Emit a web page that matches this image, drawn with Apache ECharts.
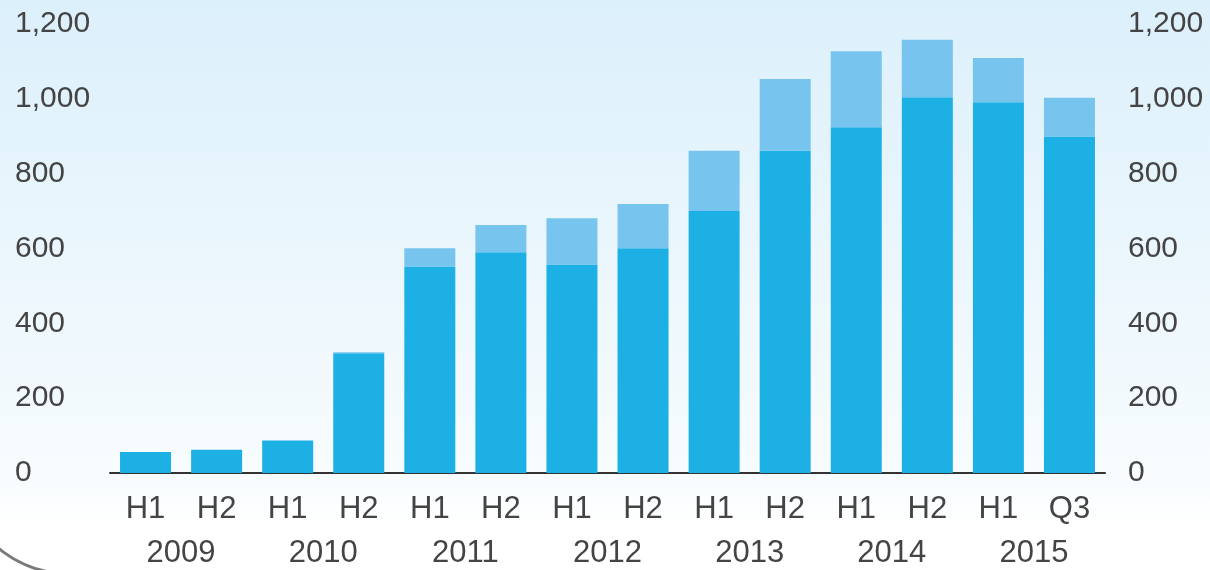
<!DOCTYPE html>
<html lang="en">
<head>
  <meta charset="UTF-8">
  <title>H1/H2 chart</title>
  <script src="https://cdn.jsdelivr.net/npm/echarts@6/dist/echarts.min.js"></script>
  <style>
    html, body { margin: 0; padding: 0; background: #fff; }
  </style>
</head>
<body>
  <div id="main" style="width: 1210px;height:570px"></div>
  <script>
    // data
    var periods = ['H1', 'H2', 'H1', 'H2', 'H1', 'H2', 'H1', 'H2', 'H1', 'H2', 'H1', 'H2', 'H1', 'Q3'];
    var years = ['2009', '2010', '2011', '2012', '2013', '2014', '2015'];
    var baseValues = [56, 62, 87, 320, 552, 590, 557, 601, 700, 861, 924, 1004, 991, 899];
    var topValues = [0, 0, 0, 3, 49, 73, 124, 118, 161, 192, 203, 154, 118, 104];
    var yTicks = [0, 200, 400, 600, 800, 1000, 1200];

    var myChart = echarts.init(document.getElementById('main'));

    var textColor = '#444';
    var fontName = '"Liberation Sans", Arial, sans-serif';

    function fmt(v) {
      return v.toLocaleString('en-US');
    }

    var option = {
      animation: false,
      graphic: [
        {
          type: 'rect',
          z: -10,
          shape: { x: 0, y: 0, width: 1210, height: 570 },
          style: {
            fill: new echarts.graphic.LinearGradient(0, 0, 0, 1, [
              { offset: 0, color: '#dcf0fb' },
              { offset: 0.85, color: '#f8fcfe' },
              { offset: 0.92, color: '#ffffff' },
              { offset: 1, color: '#ffffff' }
            ])
          },
          silent: true
        },
        {
          // corner of the frame, bottom left
          type: 'arc',
          z: -5,
          shape: { cx: 70, cy: 462, r: 112, startAngle: Math.PI * 0.55, endAngle: Math.PI * 0.85 },
          style: { stroke: '#7a7a7a', lineWidth: 3, fill: null },
          silent: true
        }
      ],
      grid: {
        left: 110,
        right: 105,
        top: 24,
        bottom: 97
      },
      xAxis: [
        {
          type: 'category',
          data: periods,
          axisLine: { lineStyle: { color: '#333', width: 2 } },
          axisTick: { show: false },
          axisLabel: {
            color: textColor,
            fontSize: 31,
            fontFamily: fontName,
            margin: 21
          }
        },
        {
          type: 'category',
          data: years,
          position: 'bottom',
          offset: 44,
          axisLine: { show: false },
          axisTick: { show: false },
          axisLabel: {
            color: textColor,
            fontSize: 31,
            fontFamily: fontName,
            margin: 21
          }
        }
      ],
      yAxis: [
        {
          type: 'value',
          min: yTicks[0],
          max: yTicks[yTicks.length - 1],
          interval: 200,
          splitLine: { show: false },
          axisLine: { show: false },
          axisTick: { show: false },
          axisLabel: {
            align: 'left',
            margin: 95,
            color: textColor,
            fontSize: 30,
            fontFamily: fontName,
            formatter: fmt
          }
        },
        {
          type: 'value',
          position: 'right',
          min: yTicks[0],
          max: yTicks[yTicks.length - 1],
          interval: 200,
          splitLine: { show: false },
          axisLine: { show: false },
          axisTick: { show: false },
          axisLabel: {
            align: 'left',
            margin: 23,
            color: textColor,
            fontSize: 30,
            fontFamily: fontName,
            formatter: fmt
          }
        }
      ],
      series: [
        {
          type: 'bar',
          stack: 'total',
          data: baseValues,
          barWidth: 51,
          itemStyle: { color: '#1cb0e5' }
        },
        {
          type: 'bar',
          stack: 'total',
          data: topValues,
          barWidth: 51,
          itemStyle: { color: '#77c4ee' }
        }
      ]
    };

    myChart.setOption(option);
  </script>
</body>
</html>
